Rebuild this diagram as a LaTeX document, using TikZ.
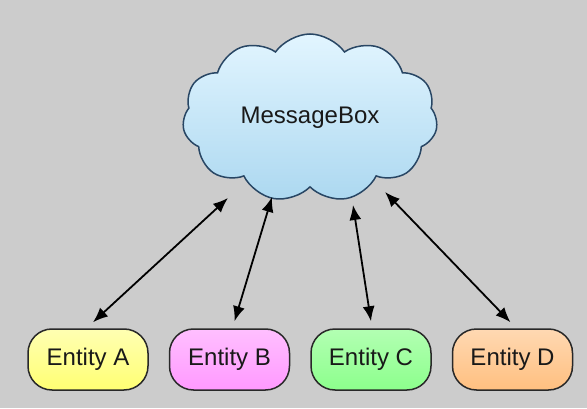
\documentclass[tikz,border=0pt]{standalone}
\usepackage{fontspec}
\setmainfont{Liberation Sans}
\usepackage{tikz}
\usetikzlibrary{
  arrows.meta,
  positioning,
  shapes.symbols,
  calc
}
\definecolor{bggray}{RGB}{204,204,204}
\definecolor{cloudedge}{RGB}{40,70,100}
\definecolor{cloudtop}{RGB}{226,245,255}
\definecolor{cloudbot}{RGB}{172,216,240}
\definecolor{entedge}{RGB}{40,40,40}
\tikzset{
  entbox/.style={draw=entedge, line width=1.5pt, rounded corners=24pt,
    minimum width=120pt, minimum height=61pt, inner sep=0pt,
    align=center, font=\fontsize{24}{27}\selectfont, text=black!90},
  msgcloud/.style={cloud, cloud puffs=11, cloud puff arc=110, aspect=1.6,
    draw=cloudedge, line width=1.5pt,
    top color=cloudtop, bottom color=cloudbot,
    minimum width=255pt, minimum height=168pt,
    font=\fontsize{24}{27}\selectfont, text=black!90},
  arr/.style={{Latex[length=15pt,width=12pt]}-{Latex[length=15pt,width=12pt]},
    line width=1.8pt},
}

\begin{document}
\begin{tikzpicture}[x=1pt, y=1pt, node distance=20pt]
  \fill[bggray] (0,0) rectangle (587,408);
  \useasboundingbox (0,0) rectangle (587,408);

  \node[msgcloud] (msg) at (310,290) {MessageBox};

  \node[entbox, top color=yellow!30, bottom color=yellow!55] (entA) at (88,48.5) {Entity A};
  \node[entbox, top color=magenta!25, bottom color=magenta!40, right=of entA] (entB) {Entity B};
  \node[entbox, top color=green!30, bottom color=green!45, right=of entB] (entC) {Entity C};
  \node[entbox, top color=orange!30, bottom color=orange!50, right=of entC] (entD) {Entity D};

  % message links
  \draw[arr] ($(msg.center)+(-82,-80)$) -- ($(entA.north)+(5,6)$);
  \draw[arr] ($(msg.center)+(-38,-79)$) -- ($(entB.north)+(5,7)$);
  \draw[arr] ($(msg.center)+(43,-87)$) -- ($(entC.north)+(0,7)$);
  \draw[arr] ($(msg.center)+(75,-74)$) -- ($(entD.north)+(-2,6)$);
\end{tikzpicture}
\end{document}
